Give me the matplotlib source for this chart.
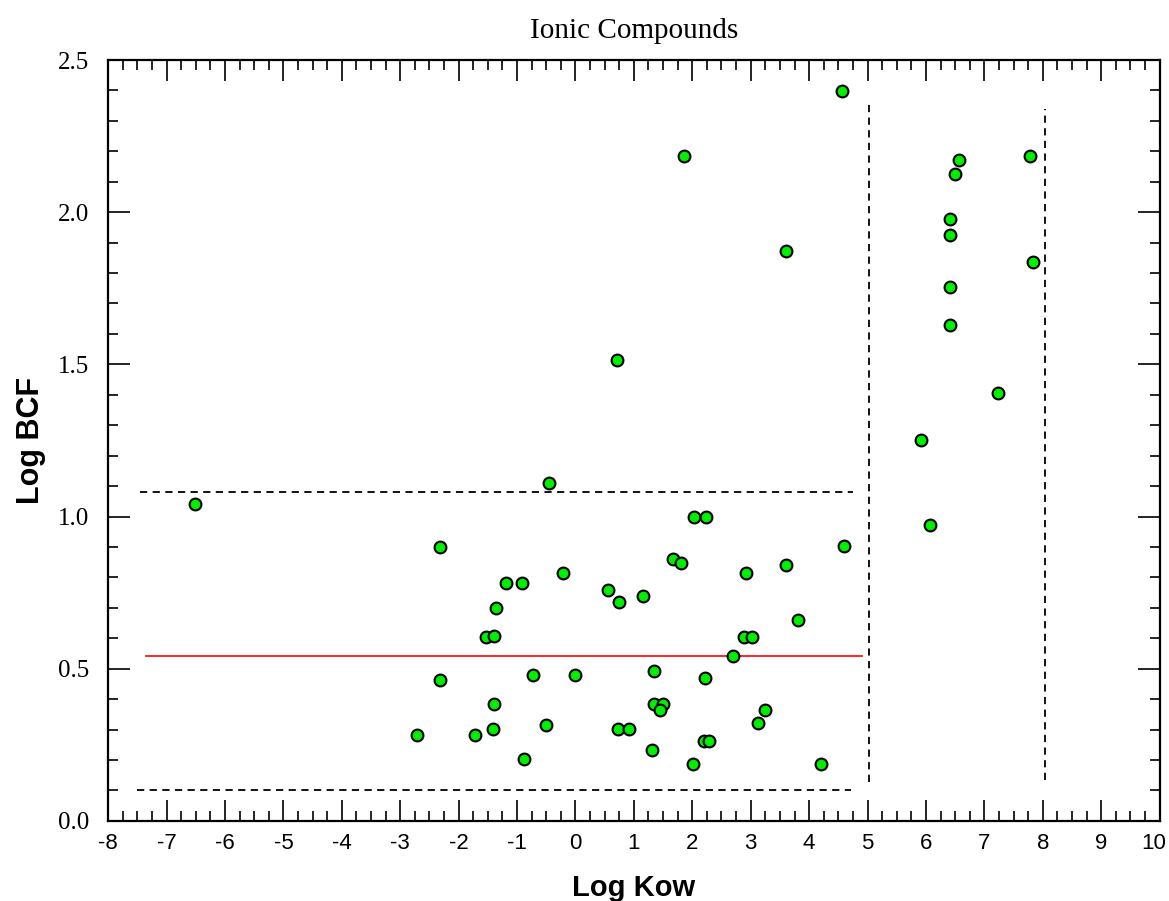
import matplotlib
matplotlib.use("Agg")
import matplotlib.pyplot as plt
import matplotlib.transforms as mtransforms
from matplotlib.ticker import MultipleLocator

# ---- data ----
log_kow = [
    -6.51, -0.45, -2.32, -0.22, -1.19, -0.91, -1.36, -1.54, -1.39, -2.32,
    -0.72, -0.01, -1.39, -2.72, -1.72, -1.42, -0.50, -0.89,
    2.03, 2.24, 4.60, 1.67, 1.81, 2.92, 3.60, 0.56, 0.74, 1.15,
    3.81, 2.88, 3.03, 2.70, 1.35, 2.21, 1.34, 1.49, 1.45, 3.24,
    3.13, 0.72, 0.92, 2.20, 2.28, 1.31, 2.01, 4.20, 6.07,
    4.57, 1.85, 6.56, 7.78, 6.50, 6.42, 6.42, 3.60, 7.83, 6.42, 6.42,
    0.71, 7.24, 5.92,
]
log_bcf = [
    1.040, 1.109, 0.900, 0.815, 0.781, 0.781, 0.699, 0.603, 0.609, 0.463,
    0.480, 0.480, 0.384, 0.281, 0.281, 0.302, 0.316, 0.203,
    1.000, 1.000, 0.904, 0.860, 0.849, 0.815, 0.842, 0.758, 0.719, 0.740,
    0.661, 0.603, 0.603, 0.543, 0.493, 0.469, 0.385, 0.385, 0.363, 0.363,
    0.322, 0.302, 0.302, 0.261, 0.261, 0.234, 0.186, 0.186, 0.973,
    2.397, 2.185, 2.172, 2.185, 2.124, 1.979, 1.926, 1.873, 1.837, 1.754, 1.630,
    1.513, 1.407, 1.250,
]

# reference lines
mean_y = 0.543
mean_x = [-7.35, 4.90]
upper_y = 1.081
upper_x = [-7.46, 4.76]
lower_y = 0.103
lower_x = [-7.50, 4.72]
vline1_x = 5.03
vline1_y = [0.127, 2.360]
vline2_x = 8.04
vline2_y = [0.136, 2.338]

x_ticks = list(range(-8, 11))
y_ticks = [0.0, 0.5, 1.0, 1.5, 2.0, 2.5]

# ---- plot ----
fig = plt.figure(figsize=(11.69, 9.01), dpi=100)
ax = fig.add_axes([0.0926, 0.0889, 0.8993, 0.8445])

ax.set_xlim(-8, 10)
ax.set_ylim(0, 2.5)

dash = (0, (4, 3))
ax.plot(mean_x, [mean_y, mean_y], color="red", lw=1.2, zorder=2)
ax.plot(upper_x, [upper_y, upper_y], color="black", lw=1.3, ls=dash, zorder=2)
ax.plot(lower_x, [lower_y, lower_y], color="black", lw=1.3, ls=dash, zorder=2)
ax.plot([vline1_x, vline1_x], vline1_y, color="black", lw=1.3, ls=dash, zorder=2)
ax.plot([vline2_x, vline2_x], vline2_y, color="black", lw=1.3, ls=dash, zorder=2)

ax.scatter(log_kow, log_bcf, s=72, c="#00ee00", edgecolors="black",
           linewidths=1.5, zorder=3)

ax.set_xticks(x_ticks)
ax.set_xticklabels([str(t) for t in x_ticks])
ax.set_yticks(y_ticks)
ax.set_yticklabels([f"{t:.1f}" for t in y_ticks])
ax.xaxis.set_minor_locator(MultipleLocator(0.25))
ax.yaxis.set_minor_locator(MultipleLocator(0.1))

ax.tick_params(which="both", direction="in", top=True, right=True, width=1.2,
               colors="black")
ax.tick_params(axis="x", which="major", length=15, pad=9)
ax.tick_params(axis="x", which="minor", length=7)
ax.tick_params(axis="y", which="major", length=16, pad=14)
ax.tick_params(axis="y", which="minor", length=7)

xlabels = ax.get_xticklabels()
for lab in xlabels:
    lab.set_family(["Liberation Sans", "DejaVu Sans"])
    lab.set_fontsize(16)
# last label squeezed against the figure edge, as in the reference
last = xlabels[-1]
last.set_horizontalalignment("right")
last.set_transform(last.get_transform() +
                   mtransforms.ScaledTranslation(7 / 100, 0, fig.dpi_scale_trans))

for lab in ax.get_yticklabels():
    lab.set_family(["Liberation Serif", "DejaVu Serif"])
    lab.set_fontsize(18)

for sp in ax.spines.values():
    sp.set_linewidth(1.6)

ax.set_xlabel("Log Kow", family=["Liberation Sans", "DejaVu Sans"],
              fontweight="bold", fontsize=21, labelpad=14)
ax.set_ylabel("Log BCF", family=["Liberation Sans", "DejaVu Sans"],
              fontweight="bold", fontsize=22, labelpad=8)
ax.set_title("Ionic Compounds", family=["Liberation Serif", "DejaVu Serif"],
             fontsize=21, pad=16)

fig.savefig("out.png", dpi=100, facecolor="white")
